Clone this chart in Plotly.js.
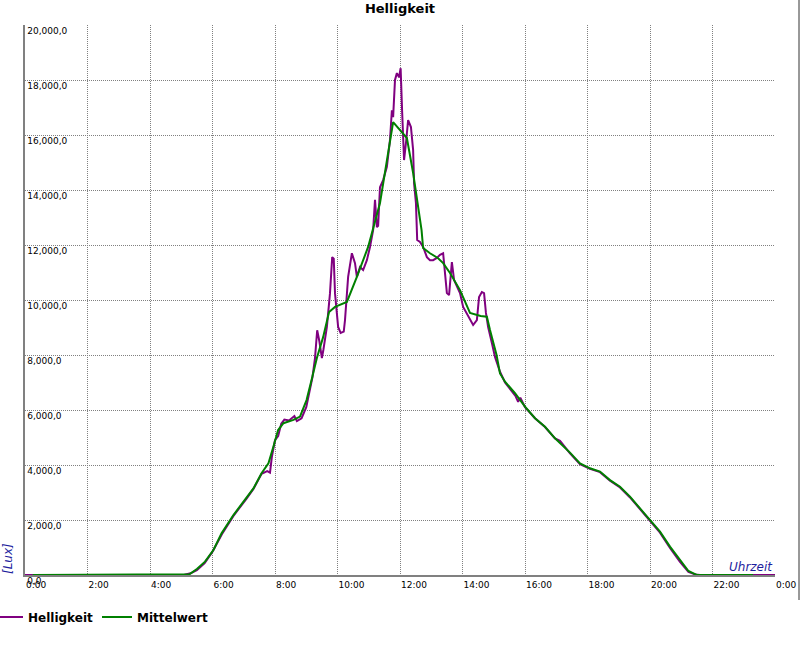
<!DOCTYPE html>
<html>
<head>
<meta charset="utf-8">
<script src="https://cdn.plot.ly/plotly-3.0.1.min.js"></script>
<style>html,body{margin:0;padding:0;background:#fff;}#chart{width:800px;height:650px;}</style>
</head>
<body>
<div id="chart"></div>
<script>
// Time in hours of day
const hellTime = [0,5.0,5.1,5.3,5.5,5.75,6.0,6.3,6.67,7.09,7.31,7.57,7.75,7.84,7.9,8.0,8.1,8.2,8.3,8.45,8.55,8.62,8.7,8.85,9.0,9.1,9.2,9.28,9.35,9.42,9.5,9.55,9.66,9.76,9.83,9.88,9.92,10.02,10.1,10.2,10.24,10.34,10.46,10.56,10.62,10.72,10.82,10.94,11.04,11.14,11.2,11.26,11.3,11.36,11.46,11.58,11.68,11.74,11.78,11.84,11.9,11.97,12.02,12.07,12.13,12.19,12.26,12.35,12.42,12.45,12.51,12.55,12.64,12.74,12.86,12.96,13.06,13.18,13.28,13.38,13.44,13.5,13.57,13.66,13.73,13.82,13.92,14.02,14.11,14.24,14.34,14.46,14.53,14.62,14.69,14.75,14.82,14.94,15.04,15.2,15.36,15.6,15.7,15.78,15.85,16.0,16.32,16.64,16.96,17.12,17.44,17.76,18.08,18.4,18.72,19.04,19.36,19.68,20.0,20.32,20.64,20.96,21.23,21.45,21.6,24];
const hellValue = [0,0,10,60,180,430,850,1480,2150,2780,3130,3680,3780,3720,4300,4900,5050,5500,5650,5620,5700,5780,5600,5700,6100,6600,7200,7890,8900,8500,7890,8200,9020,10250,11560,11500,10250,9020,8800,8850,9270,10840,11700,11340,10840,11200,11090,11450,11930,12540,13640,12650,12700,14100,14360,14840,15820,16900,16650,18000,18250,18100,18430,16800,15090,15700,16540,16290,15450,14250,13530,12180,12110,11930,11560,11450,11450,11530,11640,11700,10980,10250,10180,11380,10730,10470,10250,9750,9560,9270,9090,9270,10110,10290,10250,9530,9020,8440,7930,7390,7000,6650,6500,6300,6450,6100,5700,5380,4970,4880,4420,4030,3860,3740,3430,3180,2820,2400,1980,1540,980,480,110,20,0,0];

const mittelTime = [0.25,5.2,5.26,5.5,5.76,6.03,6.29,6.67,7.09,7.31,7.57,7.79,7.95,8.1,8.27,8.59,8.8,9.01,9.17,9.34,9.54,9.73,9.92,10.3,10.62,10.98,11.36,11.62,11.78,12.22,12.42,12.69,12.74,12.96,13.22,13.38,13.6,13.92,14.08,14.24,14.58,14.78,14.88,15.09,15.2,15.36,15.68,16.0,16.32,16.64,16.96,17.44,17.76,18.08,18.4,18.72,19.04,19.36,19.68,20.0,20.32,20.64,20.96,21.23,21.39,21.5,23.3];
const mittelValue = [0,0,25,220,484,910,1515,2180,2790,3150,3700,4060,4670,5270,5520,5640,5760,6360,7090,7890,8650,9560,9750,9930,10840,11930,13530,15340,16470,15890,14620,12540,11890,11700,11520,11340,10980,10360,9930,9530,9420,9390,8910,8000,7330,7030,6610,6120,5700,5390,4970,4450,4060,3880,3760,3450,3210,2850,2420,2000,1575,1030,545,145,60,0,0];

const xTickVals = [0,2,4,6,8,10,12,14,16,18,20,22,24];
const xTickText = ["0:00","2:00","4:00","6:00","8:00","10:00","12:00","14:00","16:00","18:00","20:00","22:00","0:00"];
const yTickVals = [0,2000,4000,6000,8000,10000,12000,14000,16000,18000,20000];
const yTickText = ["0,0","2,000,0","4,000,0","6,000,0","8,000,0","10,000,0","12,000,0","14,000,0","16,000,0","18,000,0","20,000,0"];

const traces = [
  {x: hellTime, y: hellValue, name: "Helligkeit", type: "scatter", mode: "lines",
   line: {color: "#800080", width: 2}},
  {x: mittelTime, y: mittelValue, name: "Mittelwert", type: "scatter", mode: "lines",
   line: {color: "#008000", width: 2}}
];

const tickFont = {family: "DejaVu Sans", size: 9, color: "#000"};
const blue = "#1e1e9e";

const layout = {
  width: 800, height: 650,
  margin: {l: 25, r: 25, t: 25, b: 75, pad: 0, autoexpand: false},
  paper_bgcolor: "#fff", plot_bgcolor: "#fff",
  title: {text: "Helligkeit", font: {family: "DejaVu Sans", size: 13, weight: "bold", color: "#000"},
          xref: "container", x: 0.5, xanchor: "center", yref: "container", y: 1 - 8/650, yanchor: "middle"},
  showlegend: true,
  legend: {orientation: "h", xref: "container", yref: "container", x: 0, xanchor: "left",
           indentation: -12, entrywidth: 76, entrywidthmode: "pixels", y: 1 - 617 / 650, yanchor: "middle",
           font: {family: "DejaVu Sans", size: 12, weight: "bold", color: "#000"}, bgcolor: "rgba(0,0,0,0)"},
  xaxis: {range: [0, 24], tickmode: "array", tickvals: xTickVals, ticktext: xTickText,
          showgrid: true, gridcolor: "#808080", gridwidth: 1, griddash: "1px,1px",
          showline: true, linecolor: "#808080", linewidth: 2, ticks: "", zeroline: false,
          ticklabelposition: "outside right", ticklabeloverflow: "allow", tickfont: tickFont,
          layer: "below traces", fixedrange: true, automargin: false},
  yaxis: {range: [0, 20000], tickmode: "array", tickvals: yTickVals, ticktext: yTickText,
          showgrid: true, gridcolor: "#808080", gridwidth: 1, griddash: "1px,1px",
          showline: true, linecolor: "#808080", linewidth: 2, ticks: "", zeroline: false,
          ticklabelposition: "inside bottom", ticklabeloverflow: "allow", tickfont: tickFont,
          layer: "below traces", fixedrange: true, automargin: false},
  annotations: [
    {text: "[Lux]", xref: "paper", yref: "paper", x: (8 - 25) / 750, y: (575 - 559) / 550,
     xanchor: "center", yanchor: "middle", textangle: -90, showarrow: false,
     font: {family: "DejaVu Sans", size: 12, style: "italic", color: blue}},
    {text: "Uhrzeit", xref: "paper", yref: "paper", x: (775 - 25) / 750, y: (575 - 567) / 550,
     xanchor: "right", yanchor: "middle", showarrow: false,
     font: {family: "DejaVu Sans", size: 12, style: "italic", color: blue}}
  ],
  shapes: [
    {type: "line", xref: "paper", yref: "paper", x0: (799 - 25) / 750, x1: (799 - 25) / 750,
     y0: (575 - 600) / 550, y1: 575 / 550, line: {color: "#333", width: 1}}
  ]
};

Plotly.newPlot("chart", traces, layout, {staticPlot: true, displayModeBar: false});
</script>
</body>
</html>
